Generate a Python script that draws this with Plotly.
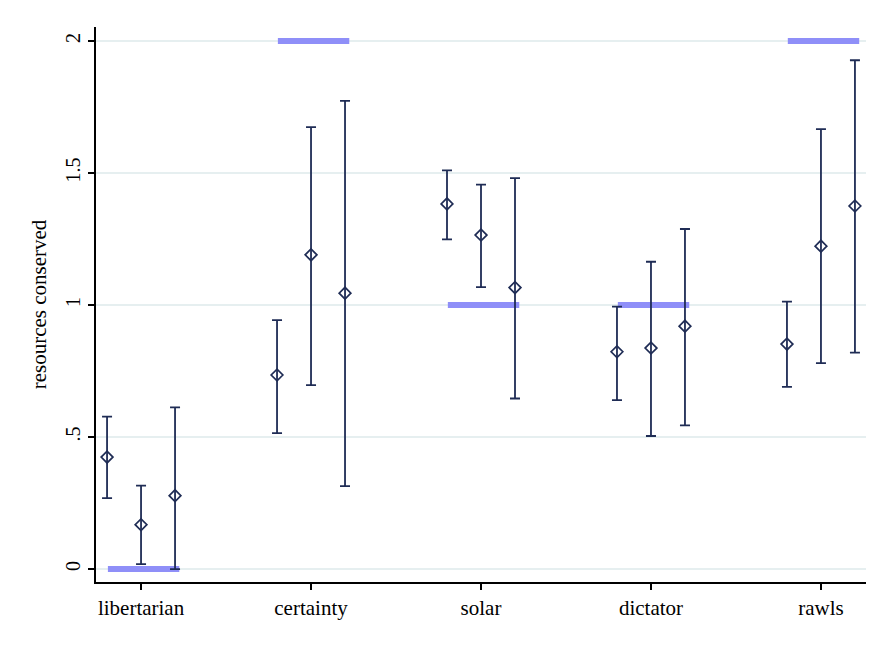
import plotly.graph_objects as go

categories = ["libertarian", "certainty", "solar", "dictator", "rawls"]
benchmark = [0, 2, 1, 1, 2]

mean_a = [0.424, 0.735, 1.383, 0.823, 0.852]
hi_a = [0.577, 0.943, 1.510, 0.994, 1.013]
lo_a = [0.269, 0.515, 1.249, 0.640, 0.690]

mean_b = [0.168, 1.190, 1.265, 0.837, 1.223]
hi_b = [0.316, 1.674, 1.456, 1.164, 1.666]
lo_b = [0.019, 0.697, 1.068, 0.504, 0.780]

mean_c = [0.278, 1.045, 1.066, 0.920, 1.375]
hi_c = [0.612, 1.773, 1.481, 1.288, 1.927]
lo_c = [0.000, 0.314, 0.646, 0.544, 0.820]

y_ticks = [0, 0.5, 1, 1.5, 2]
y_tick_labels = ["0", ".5", "1", "1.5", "2"]

NAVY = "#1f2c55"
BLUE = "#8f8ff8"
GRID = "#e6eff0"
FONT = "Liberation Serif"

fig = go.Figure()

# benchmark bars
for i, b in enumerate(benchmark):
    fig.add_trace(go.Scatter(
        x=[i - 0.195, i + 0.225], y=[b, b], mode="lines",
        line=dict(color=BLUE, width=6), showlegend=False, hoverinfo="skip"))

offsets = [-0.2, 0.0, 0.2]
for off, m, hi, lo in zip(offsets, [mean_a, mean_b, mean_c], [hi_a, hi_b, hi_c], [lo_a, lo_b, lo_c]):
    xs = [i + off for i in range(len(categories))]
    fig.add_trace(go.Scatter(
        x=xs, y=m, mode="markers",
        marker=dict(symbol="diamond-open", size=9, color=NAVY, line=dict(width=1.7, color=NAVY)),
        error_y=dict(type="data", symmetric=False,
                     array=[h - v for h, v in zip(hi, m)],
                     arrayminus=[v - l for v, l in zip(m, lo)],
                     color=NAVY, thickness=1.8, width=5),
        showlegend=False))

fig.update_layout(
    width=872, height=637,
    margin=dict(l=88, r=14, t=19, b=63),
    paper_bgcolor="white",
    plot_bgcolor="white",
    font=dict(family=FONT, size=20, color="black"),
    showlegend=False,
)
fig.update_xaxes(
    range=[-0.265, 4.265],
    tickmode="array", tickvals=list(range(len(categories))), ticktext=categories,
    showgrid=False, zeroline=False,
    showline=True, linecolor="black", linewidth=1.5,
    ticks="outside", ticklen=6, tickwidth=1.5, tickcolor="black",
    tickfont=dict(family=FONT, size=21),
)
fig.update_yaxes(
    range=[-0.049, 2.053],
    tickmode="array", tickvals=y_ticks, ticktext=y_tick_labels, tickangle=-90,
    showgrid=True, gridcolor=GRID, gridwidth=1.5, zeroline=False,
    showline=True, linecolor="black", linewidth=1.5,
    ticks="outside", ticklen=6, tickwidth=1.5, tickcolor="black",
    tickfont=dict(family=FONT, size=20),
    title=dict(text="resources conserved", font=dict(family=FONT, size=21), standoff=10),
)

fig.write_html("out.html")
